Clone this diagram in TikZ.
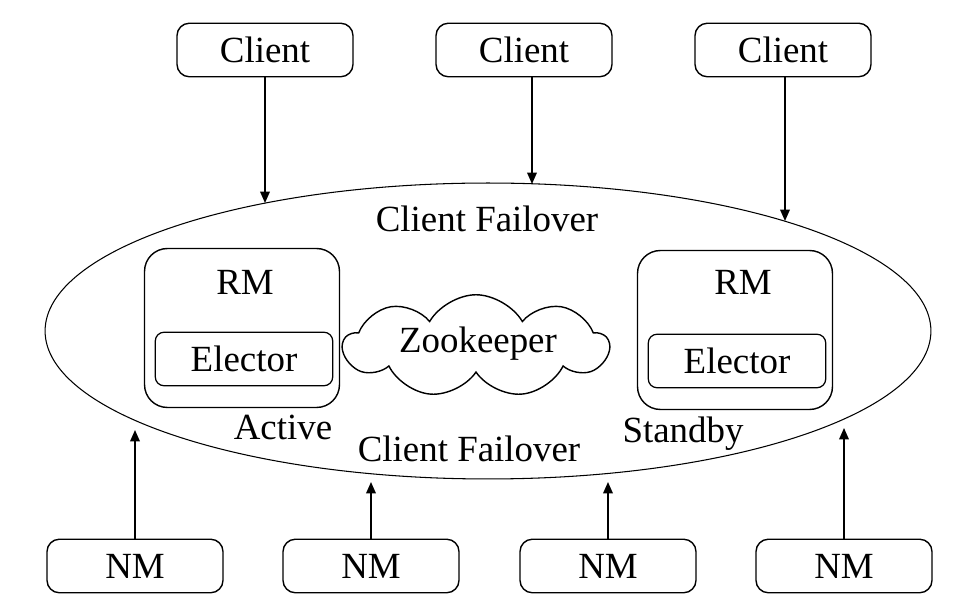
\documentclass[tikz,border=0pt]{standalone}
\usepackage{fontspec}
\setmainfont{Liberation Serif}
\usetikzlibrary{arrows.meta,shapes.geometric,shapes.symbols}

\begin{document}
\begin{tikzpicture}[x=0.02cm,y=-0.02cm,
        every node/.style={font=\fontsize{21}{25}\selectfont},
        box/.style={draw,line width=0.8pt,rounded corners=7pt,minimum width=3.52cm,minimum height=1.07cm,text height=14pt,text depth=0pt},
        rmbox/.style={draw,line width=0.8pt,rounded corners=13pt,minimum width=3.9cm,minimum height=3.18cm},
        elec/.style={draw,line width=0.7pt,rounded corners=5pt,minimum width=3.55cm,minimum height=1.07cm,text height=14pt,text depth=0pt},
        txt/.style={anchor=base,inner sep=0pt},
        link/.style={line width=0.8pt,-{Triangle[length=6.5pt,width=5.5pt]}}]
    \useasboundingbox (0,0) rectangle (965,614);
    \node[draw,ellipse,line width=0.6pt,inner sep=0pt,outer sep=0pt,minimum width=17.72cm,minimum height=5.92cm] (ring) at (488,331) {};
    \node[box] (cl1) at (265,50) {Client};
    \node[box] (cl2) at (524,50) {Client};
    \node[box] (cl3) at (783,50) {Client};
    \node[box] (nm1) at (135,566) {NM};
    \node[box] (nm2) at (371,566) {NM};
    \node[box] (nm3) at (608,566) {NM};
    \node[box] (nm4) at (844,566) {NM};
    \node[rmbox] (rm1) at (242,328) {};
    \node[rmbox] (rm2) at (735,330) {};
    \node[txt] (rmt1) at (245,295) {RM};
    \node[txt] (rmt2) at (743,295) {RM};
    \node[elec] (el1) at (244,359) {Elector};
    \node[elec] (el2) at (737,361) {Elector};
    \node[draw,cloud,cloud puffs=9,cloud puff arc=120,line width=0.8pt,minimum width=5.3cm,minimum height=2.05cm,inner sep=0pt] (zk) at (476,346) {};
    \node[txt] (zkt) at (478,353) {Zookeeper};
    \node[txt] (cft) at (487,232) {Client Failover};
    \node[txt] (cfb) at (469,462) {Client Failover};
    \node[txt] (act) at (283,440) {Active};
    \node[txt] (sby) at (683,443) {Standby};
    \coordinate (in1) at (265,203);
    \coordinate (in2) at (532,184);
    \coordinate (in3) at (785,221);
    \coordinate (up1) at (135,430);
    \coordinate (up2) at (371,482);
    \coordinate (up3) at (608,482);
    \coordinate (up4) at (844,428);
    \draw[link] (cl1.south -| in1) -- (in1);
    \draw[link] (cl2.south -| in2) -- (in2);
    \draw[link] (cl3.south -| in3) -- (in3);
    \draw[link] (nm1.north) -- (up1);
    \draw[link] (nm2.north) -- (up2);
    \draw[link] (nm3.north) -- (up3);
    \draw[link] (nm4.north) -- (up4);
\end{tikzpicture}
\end{document}
